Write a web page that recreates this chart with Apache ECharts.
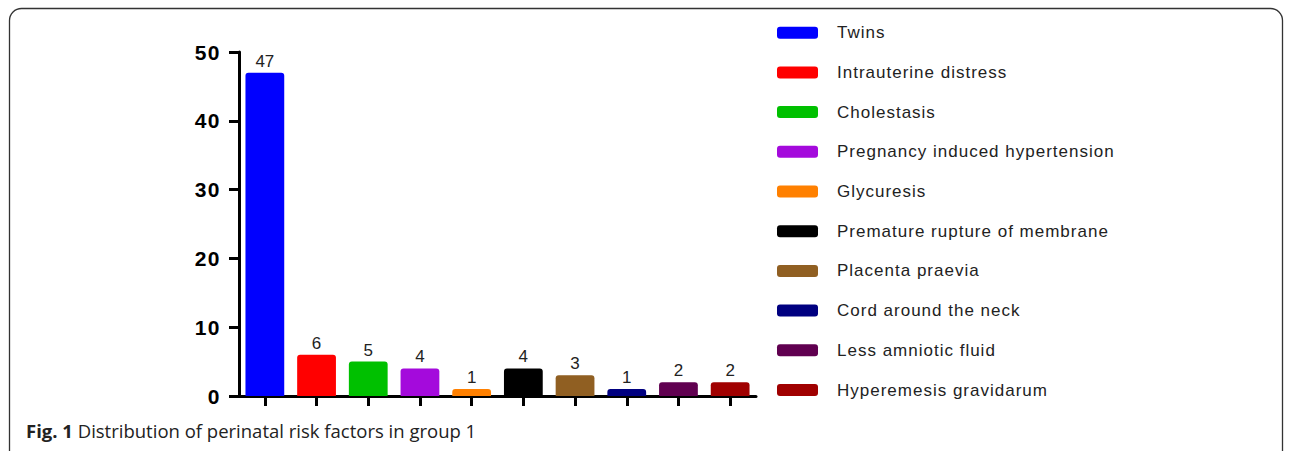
<!DOCTYPE html>
<html>
<head>
<meta charset="utf-8">
<script src="https://cdn.jsdelivr.net/npm/echarts@6/dist/echarts.min.js"></script>
<style>
html,body{margin:0;padding:0;background:#fff;}
#chart{width:1292px;height:451px;}
text[style*="LegendFace"], text[font-family*="LegendFace"]{letter-spacing:1px;}
text[style*="YFace"], text[font-family*="YFace"]{letter-spacing:1.5px;}
</style>
</head>
<body>
<div id="chart"></div>
<script>
const categories = ['Twins','Intrauterine distress','Cholestasis','Pregnancy induced hypertension','Glycuresis','Premature rupture of membrane','Placenta praevia','Cord around the neck','Less amniotic fluid','Hyperemesis gravidarum'];
const values = [47, 6, 5, 4, 1, 4, 3, 1, 2, 2];
const colors = ['#0000FF','#FF0000','#00C000','#A40ADC','#FF8000','#000000','#905F22','#000080','#600050','#A00000'];
const yMin = 0, yMax = 50, yStep = 10;
const captionBold = 'Fig. 1';
const captionText = 'Distribution of perinatal risk factors in group 1';

const chart = echarts.init(document.getElementById('chart'), null, {renderer: 'svg'});

const series = categories.map((name, i) => ({
  name: name,
  type: 'bar',
  stack: 'all',
  barWidth: '75%',
  data: values.map((v, j) => j === i ? v : '-'),
  itemStyle: {color: colors[i], borderRadius: [3, 3, 0, 0]},
  label: {show: true, position: 'top', distance: 3, color: '#222', fontSize: 17, fontFamily: '"Liberation Sans", Arial, sans-serif'},
  emphasis: {disabled: true},
  animation: false
}));

chart.setOption({
  animation: false,
  grid: {left: 239, top: 52, width: 517, height: 344, containLabel: false},
  xAxis: {
    type: 'category',
    data: categories,
    boundaryGap: true,
    axisLine: {lineStyle: {color: '#000', width: 3}},
    axisTick: {show: true, interval: 0, alignWithLabel: true, length: 10, lineStyle: {color: '#000', width: 3}},
    axisLabel: {show: false, interval: 0},
    splitLine: {show: false}
  },
  yAxis: {
    type: 'value',
    min: yMin, max: yMax, interval: yStep,
    axisLine: {show: true, lineStyle: {color: '#000', width: 3}},
    axisTick: {show: true, length: 10, lineStyle: {color: '#000', width: 3}},
    axisLabel: {fontSize: 21, fontWeight: 'bold', color: '#000', margin: 18, fontFamily: '"Liberation Sans", YFace, Arial, sans-serif'},
    splitLine: {show: false}
  },
  legend: {
    orient: 'vertical',
    left: 777,
    top: 22.7,
    padding: 0,
    itemWidth: 41,
    itemHeight: 12,
    itemGap: 19.7,
    icon: 'roundRect',
    selectedMode: false,
    data: categories,
    textStyle: {fontSize: 17, lineHeight: 20, color: '#222', padding: [0, 0, 0, 14], fontFamily: '"Liberation Sans", LegendFace, Arial, sans-serif'}
  },
  graphic: [
    {type: 'rect', shape: {x: 9.5, y: 8.5, width: 1273, height: 470, r: 12}, style: {fill: 'none', stroke: '#333', lineWidth: 1.3}, silent: true, z: -1},
    {type: 'text', left: 26, top: 421, style: {
      text: '{b|' + captionBold + '} ' + captionText,
      fontSize: 18.5, fontFamily: '"Open Sans", "Noto Sans", sans-serif', fill: '#222',
      rich: {b: {fontWeight: 'bold', fontSize: 18.5, fontFamily: '"Open Sans", "Noto Sans", sans-serif', fill: '#222'}}
    }}
  ],
  series: series
});
</script>
</body>
</html>
